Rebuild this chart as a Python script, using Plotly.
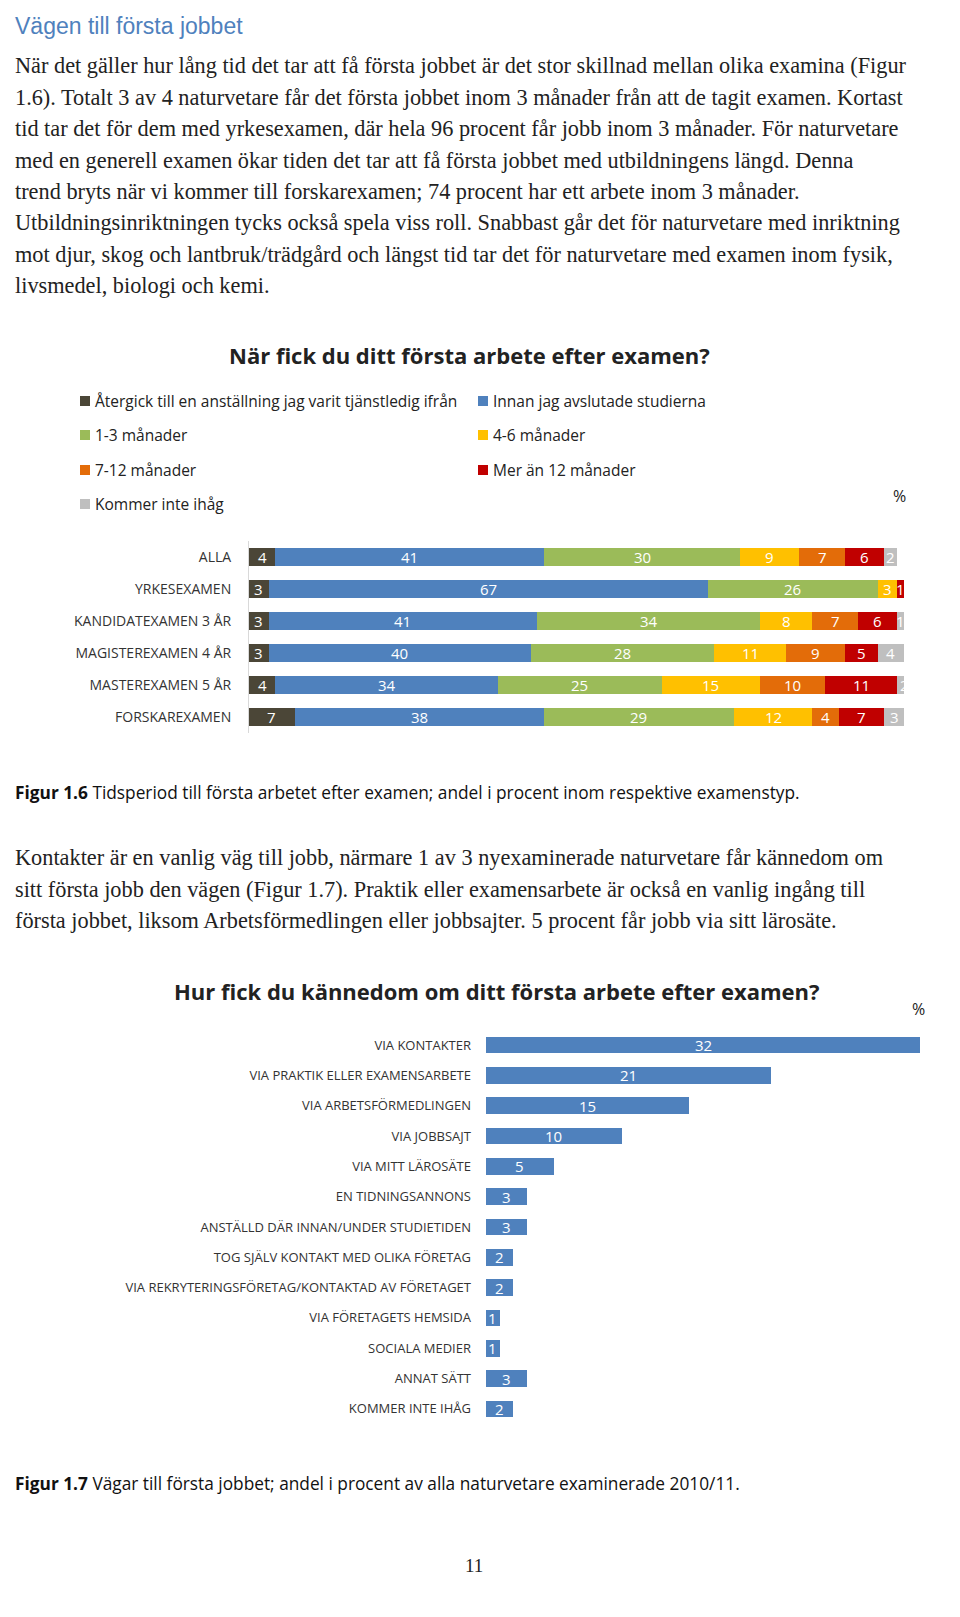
import plotly.graph_objects as go

H, W = 1617, 960
def yp(px): return 1 - px / H
def xp(px): return px / W

# ---- Chart 1 data ----
cats1 = ["ALLA", "YRKESEXAMEN", "KANDIDATEXAMEN 3 ÅR", "MAGISTEREXAMEN 4 ÅR", "MASTEREXAMEN 5 ÅR", "FORSKAREXAMEN"]
series1 = ["Återgick till en anställning jag varit tjänstledig ifrån", "Innan jag avslutade studierna",
           "1-3 månader", "4-6 månader", "7-12 månader", "Mer än 12 månader", "Kommer inte ihåg"]
vals1 = [
    [4, 3, 3, 3, 4, 7],
    [41, 67, 41, 40, 34, 38],
    [30, 26, 34, 28, 25, 29],
    [9, 3, 8, 11, 15, 12],
    [7, 0, 7, 9, 10, 4],
    [6, 1, 6, 5, 11, 7],
    [2, 0, 1, 4, 2, 3],
]
colors1 = ["#4B4637", "#4F81BD", "#9BBB59", "#FFC000", "#E36C09", "#C00000", "#BFBFBF"]

# ---- Chart 2 data ----
cats2 = ["VIA KONTAKTER", "VIA PRAKTIK ELLER EXAMENSARBETE", "VIA ARBETSFÖRMEDLINGEN", "VIA JOBBSAJT",
         "VIA MITT LÄROSÄTE", "EN TIDNINGSANNONS", "ANSTÄLLD DÄR INNAN/UNDER STUDIETIDEN",
         "TOG SJÄLV KONTAKT MED OLIKA FÖRETAG", "VIA REKRYTERINGSFÖRETAG/KONTAKTAD AV FÖRETAGET",
         "VIA FÖRETAGETS HEMSIDA", "SOCIALA MEDIER", "ANNAT SÄTT", "KOMMER INTE IHÅG"]
vals2 = [32, 21, 15, 10, 5, 3, 3, 2, 2, 1, 1, 3, 2]

fig = go.Figure()
ann = []
cum = [0] * len(cats1)
for name, vals, col in zip(series1, vals1, colors1):
    fig.add_trace(go.Bar(y=cats1, x=vals, orientation="h", name=name, marker_color=col,
                         marker_line_width=0, width=0.58, xaxis="x", yaxis="y", showlegend=False,
                         hoverinfo="x+name"))
    for i, v in enumerate(vals):
        if v > 0:
            ann.append(dict(x=cum[i] + v / 2, y=cats1[i], xref="x", yref="y", text=str(v),
                            showarrow=False, font=dict(color="white", size=15, family="Open Sans")))
        cum[i] += v

fig.add_trace(go.Bar(y=cats2, x=vals2, orientation="h", marker_color="#4F81BD", marker_line_width=0,
                     width=0.55, xaxis="x2", yaxis="y2", showlegend=False))
for c, v in zip(cats2, vals2):
    ann.append(dict(x=v / 2, y=c, xref="x2", yref="y2", text=str(v), showarrow=False,
                    font=dict(color="white", size=15, family="Open Sans")))

def pa(x, y, text, font, xanchor="left"):
    ann.append(dict(x=xp(x), y=yp(y), xref="paper", yref="paper", text=text, showarrow=False,
                    xanchor=xanchor, yanchor="middle", font=font))

serif = dict(family="Liberation Serif", size=22.3, color="#222")
pa(5, 18, "Vägen till första jobbet", dict(family="Liberation Sans", size=23, color="#4F81BD"))
p1 = ["När det gäller hur lång tid det tar att få första jobbet är det stor skillnad mellan olika examina (Figur",
      "1.6). Totalt 3 av 4 naturvetare får det första jobbet inom 3 månader från att de tagit examen. Kortast",
      "tid tar det för dem med yrkesexamen, där hela 96 procent får jobb inom 3 månader. För naturvetare",
      "med en generell examen ökar tiden det tar att få första jobbet med utbildningens längd. Denna",
      "trend bryts när vi kommer till forskarexamen; 74 procent har ett arbete inom 3 månader.",
      "Utbildningsinriktningen tycks också spela viss roll. Snabbast går det för naturvetare med inriktning",
      "mot djur, skog och lantbruk/trädgård och längst tid tar det för naturvetare med examen inom fysik,",
      "livsmedel, biologi och kemi."]
for i, t in enumerate(p1):
    pa(5, 58 + i * 31.4, t, serif)
p2 = ["Kontakter är en vanlig väg till jobb, närmare 1 av 3 nyexaminerade naturvetare får kännedom om",
      "sitt första jobb den vägen (Figur 1.7). Praktik eller examensarbete är också en vanlig ingång till",
      "första jobbet, liksom Arbetsförmedlingen eller jobbsajter. 5 procent får jobb via sitt lärosäte."]
for i, t in enumerate(p2):
    pa(5, 850 + i * 31.5, t, serif)

sans = "Open Sans"
pa(461, 347, "<b>När fick du ditt första arbete efter examen?</b>", dict(family=sans, size=22, color="#222"), "center")
pa(489, 983, "<b>Hur fick du kännedom om ditt första arbete efter examen?</b>", dict(family=sans, size=22, color="#222"), "center")
pa(891, 488, "%", dict(family=sans, size=16, color="#222"), "center")
pa(910, 1001, "%", dict(family=sans, size=16, color="#222"), "center")

# legend
shapes = []
legpos = [(72, 393), (470, 393), (72, 427), (470, 427), (72, 462), (470, 462), (72, 496)]
for (lx, ly), name, col in zip(legpos, series1, colors1):
    shapes.append(dict(type="rect", xref="paper", yref="paper", x0=xp(lx), x1=xp(lx + 10),
                       y0=yp(ly + 5), y1=yp(ly - 5), fillcolor=col, line_width=0))
    pa(lx + 13, ly, name, dict(family=sans, size=15.5, color="#222"))

cap = dict(family=sans, size=17.3, color="#111")
pa(5, 784, "<b>Figur 1.6</b> Tidsperiod till första arbetet efter examen; andel i procent inom respektive examenstyp.", cap)
pa(5, 1475, "<b>Figur 1.7</b> Vägar till första jobbet; andel i procent av alla naturvetare examinerade 2010/11.", cap)
pa(466, 1557, "11", dict(family="Liberation Serif", size=19, color="#222"), "center")

fig.update_layout(
    width=W, height=H, margin=dict(l=0, r=0, t=0, b=0), paper_bgcolor="white", plot_bgcolor="white",
    barmode="stack", bargap=0.4, annotations=ann, shapes=shapes, showlegend=False,
    xaxis=dict(domain=[xp(241), xp(896)], range=[0, 100], visible=False, anchor="y"),
    yaxis=dict(domain=[yp(725), yp(533)], autorange="reversed", anchor="x", showline=True, linecolor="#D9D9D9",
               ticks="", ticklabelstandoff=14, tickfont=dict(family=sans, size=14, color="#333")),
    xaxis2=dict(domain=[xp(478), xp(912)], range=[0, 32], visible=False, anchor="y2"),
    yaxis2=dict(domain=[yp(1416), yp(1022)], autorange="reversed", anchor="x2", showline=False,
                ticks="", ticklabelstandoff=14, tickfont=dict(family=sans, size=13, color="#333")),
)
fig.write_html("out.html")
